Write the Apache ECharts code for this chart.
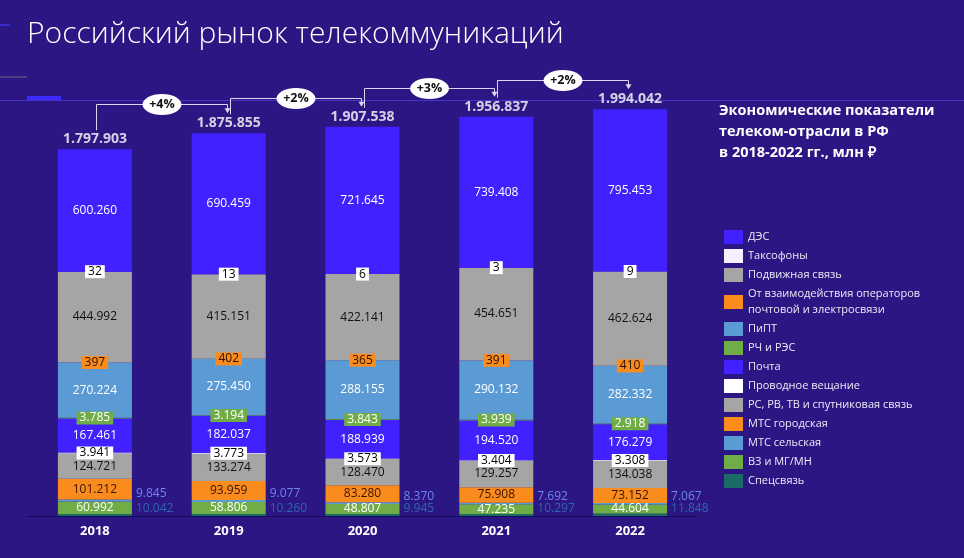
<!DOCTYPE html>
<html>
<head>
<meta charset="utf-8">
<script src="https://cdn.jsdelivr.net/npm/echarts@6/dist/echarts.min.js"></script>
<style>
html, body { margin: 0; background: #2b1683; }
#main { width: 964px; height: 558px; }
</style>
</head>
<body>
<div id="main"></div>
<script>
// годы и показатели, млн руб.
var years = ['2018', '2019', '2020', '2021', '2022'];

var des        = [600260, 690459, 721645, 739408, 795453];
var taxophones = [32, 13, 6, 3, 9];
var mobile     = [444992, 415151, 422141, 454651, 462624];
var interop    = [397, 402, 365, 391, 410];
var pipt       = [270224, 275450, 288155, 290132, 282332];
var rch        = [3785, 3194, 3843, 3939, 2918];
var post       = [167461, 182037, 188939, 194520, 176279];
var wired      = [3941, 3773, 3573, 3404, 3308];
var rsrvtv     = [124721, 133274, 128470, 129257, 134038];
var mtsCity    = [101212, 93959, 83280, 75908, 73152];
var mtsRural   = [9845, 9077, 8370, 7692, 7067];
var vzmgmn     = [60992, 58806, 48807, 47235, 44604];
var special    = [10042, 10260, 9945, 10297, 11848];

var totals = [1797903, 1875855, 1907538, 1956837, 1994042];

var legendNames = ['ДЭС', 'Таксофоны', 'Подвижная связь',
    'От взаимодействия операторов почтовой и электросвязи', 'ПиПТ', 'РЧ и РЭС',
    'Почта', 'Проводное вещание', 'РС, РВ, ТВ и спутниковая связь',
    'МТС городская', 'МТС сельская', 'ВЗ и МГ/МН', 'Спецсвязь'];

var font = 'Open Sans';

function fmt(v) {
    return String(v).replace(/\B(?=(\d{3})+(?!\d))/g, '.');
}

function seg(name, data, color, label) {
    var lbl = {
        show: true,
        position: 'inside',
        fontFamily: font,
        fontSize: 12,
        color: '#fff',
        formatter: function (p) { return fmt(p.value); }
    };
    for (var k in label) lbl[k] = label[k];
    return {
        name: name,
        type: 'bar',
        stack: 'all',
        barWidth: 74,
        data: data,
        itemStyle: { color: color },
        label: lbl,
        emphasis: { disabled: true }
    };
}

var whiteBox = { color: '#000', backgroundColor: '#fff', padding: [1, 3, 0, 3] };

// снизу вверх
var series = [
    seg('Спецсвязь', special, '#1b6b66', { position: 'right', distance: 4, offset: [0, -6], color: '#2e66aa' }),
    seg('ВЗ и МГ/МН', vzmgmn, '#70ad47', {}),
    seg('МТС сельская', mtsRural, '#5b9bd5', { position: 'right', distance: 4, offset: [0, -7], color: '#6f86ee' }),
    seg('МТС городская', mtsCity, '#fa8c1e', { color: '#3a1200' }),
    seg('РС, РВ, ТВ и спутниковая связь', rsrvtv, '#a5a5a5', { color: '#111' }),
    seg('Проводное вещание', wired, '#ffffff', whiteBox),
    seg('Почта', post, '#4121ff', {}),
    seg('РЧ и РЭС', rch, '#70ad47', { backgroundColor: '#70ad47', padding: [1, 3, 0, 3] }),
    seg('ПиПТ', pipt, '#5b9bd5', {}),
    seg('От взаимодействия операторов почтовой и электросвязи', interop, '#fa8c1e',
        { color: '#2a1000', backgroundColor: '#fa8c1e', padding: [1, 3, 0, 3] }),
    seg('Подвижная связь', mobile, '#a5a5a5', { color: '#111' }),
    seg('Таксофоны', taxophones, '#f4f0ff', whiteBox),
    seg('ДЭС', des, '#4121ff', {}),
    {
        name: 'Итого',
        type: 'scatter',
        data: totals,
        symbolSize: 0,
        silent: true,
        z: 5,
        label: {
            show: true,
            position: 'top',
            distance: 3,
            color: '#fff',
            fontFamily: font,
            fontWeight: 'bold',
            fontSize: 14,
            formatter: function (p) { return fmt(p.value); }
        }
    }
];

var myChart = echarts.init(document.getElementById('main'));

var option = {
    backgroundColor: '#2b1683',
    animation: false,
    title: [
        {
            text: 'Российский рынок телекоммуникаций',
            left: 27, top: 19, padding: 0,
            textStyle: { color: '#fff', fontFamily: font, fontSize: 30, fontWeight: 300 }
        },
        {
            text: 'Экономические показатели\nтелеком-отрасли в РФ\nв 2018-2022 гг., млн ₽',
            left: 719, top: 100, padding: 0,
            textStyle: { color: '#fff', fontFamily: font, fontSize: 14.5, fontWeight: 'bold', lineHeight: 21 }
        }
    ],
    legend: {
        orient: 'vertical',
        left: 724,
        top: 229,
        padding: 0,
        itemWidth: 19,
        itemHeight: 14,
        itemGap: 3,
        icon: 'rect',
        selectedMode: false,
        data: legendNames,
        textStyle: { color: '#ecebf6', fontFamily: font, fontSize: 11, lineHeight: 16 },
        formatter: function (n) {
            return n === legendNames[3] ? 'От взаимодействия операторов\nпочтовой и электросвязи' : n;
        }
    },
    grid: { left: 28, right: 267, top: 108, bottom: 42, outerBoundsMode: 'none' },
    xAxis: {
        type: 'category',
        data: years,
        axisLine: { lineStyle: { color: '#150b55', width: 1 } },
        axisTick: { show: false },
        axisLabel: { color: '#fff', fontFamily: font, fontWeight: 'bold', fontSize: 13, margin: 9 }
    },
    yAxis: {
        type: 'value',
        min: 0,
        max: 2000000,
        show: false,
        splitLine: { show: false }
    },
    series: series
};

myChart.setOption(option);

// стрелки прироста между годами
var g = [
    { type: 'rect', shape: { x: 0, y: 100, width: 964, height: 1 }, style: { fill: '#4433c4' }, silent: true },
    { type: 'rect', shape: { x: 27, y: 96, width: 34, height: 4 }, style: { fill: '#3d2bff' }, silent: true },
    { type: 'rect', shape: { x: 0, y: 76, width: 27, height: 2 }, style: { fill: '#4a4280' }, silent: true },
    { type: 'rect', shape: { x: 0, y: 24, width: 10, height: 2 }, style: { fill: '#3a2bd0' }, silent: true }
];
for (var i = 0; i < totals.length - 1; i++) {
    var p0 = myChart.convertToPixel({ xAxisIndex: 0, yAxisIndex: 0 }, [i, totals[i]]);
    var p1 = myChart.convertToPixel({ xAxisIndex: 0, yAxisIndex: 0 }, [i + 1, totals[i + 1]]);
    var x0 = Math.round(p0[0] + 1) + 0.5, x1 = Math.round(p1[0] - 2) + 0.5;
    var yStart = p0[1] - 19, level = Math.round(p1[1] - 29) + 0.5, yEnd = p1[1] - 20;
    var pct = Math.round((totals[i + 1] / totals[i] - 1) * 100);
    g.push({
        type: 'polyline', silent: true, z: 10,
        shape: { points: [[x0, yStart], [x0, level], [x1, level], [x1, yEnd - 4]] },
        style: { stroke: '#d9d6ee', lineWidth: 1, fill: null }
    });
    g.push({
        type: 'polygon', silent: true, z: 10,
        shape: { points: [[x1 - 3, yEnd - 5], [x1 + 3, yEnd - 5], [x1, yEnd]] },
        style: { fill: '#d9d6ee' }
    });
    g.push({
        type: 'ellipse', silent: true, z: 11,
        shape: { cx: (x0 + x1) / 2, cy: level, rx: 19.5, ry: 10.5 },
        style: { fill: '#fff' }
    });
    g.push({
        type: 'text', silent: true, z: 12,
        style: {
            text: '+' + pct + '%', x: (x0 + x1) / 2, y: level,
            align: 'center', verticalAlign: 'middle',
            textAlign: 'center', textVerticalAlign: 'middle',
            font: 'bold 12.5px "Open Sans"', fill: '#111'
        }
    });
}
myChart.setOption({ graphic: { elements: g } });
</script>
</body>
</html>
